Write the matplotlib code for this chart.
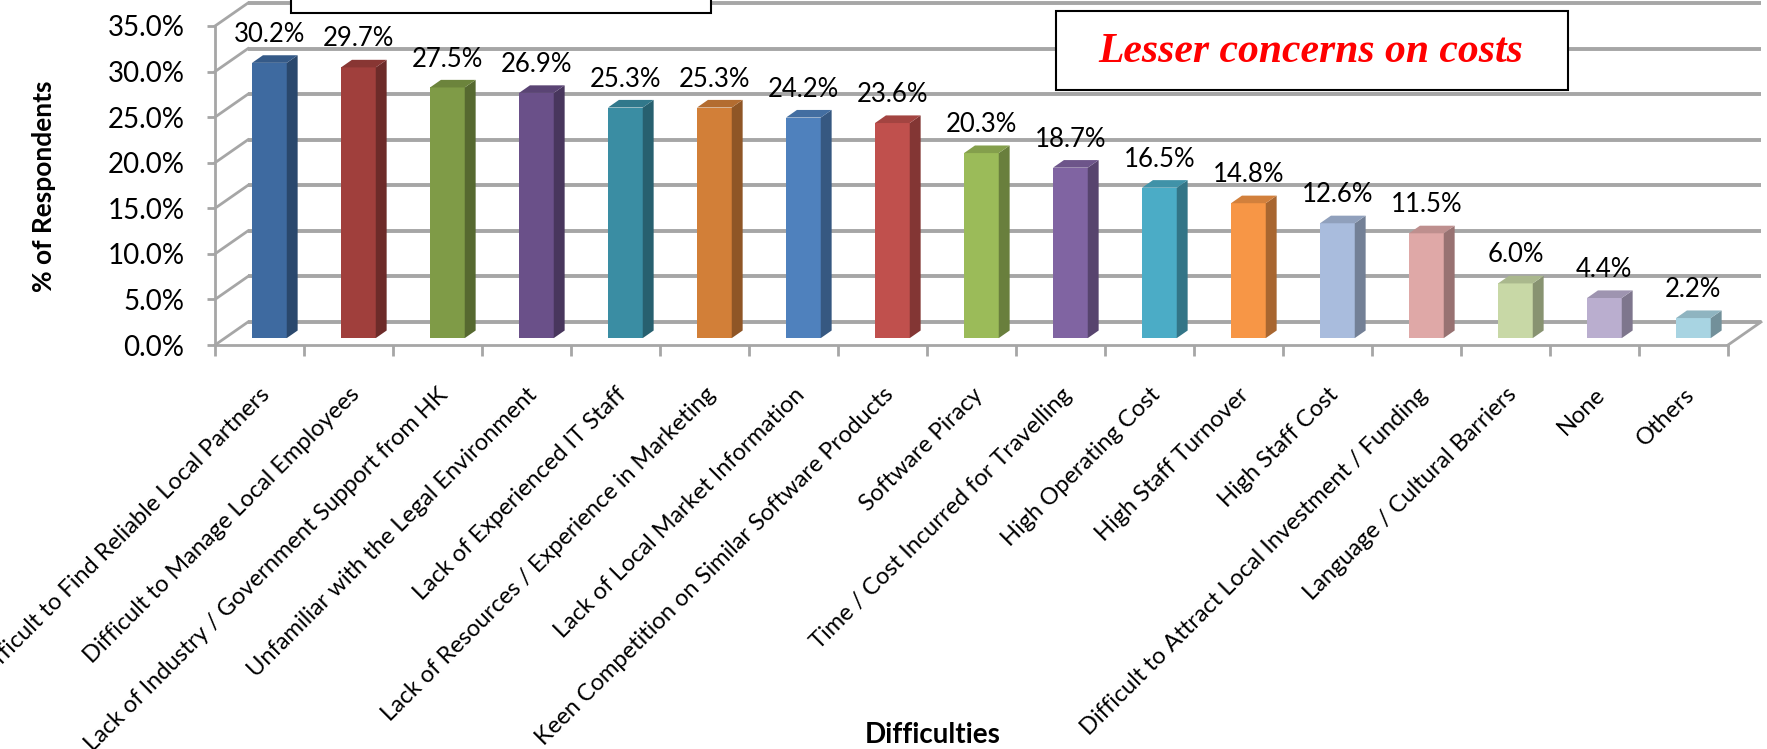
import numpy as np
import matplotlib.pyplot as plt
from matplotlib.patches import Polygon, Rectangle
from matplotlib.colors import to_rgb

plt.rcParams['font.family'] = ['Lato', 'DejaVu Sans']

# data
categories = [
    'Difficult to Find Reliable Local Partners',
    'Difficult to Manage Local Employees',
    'Lack of Industry / Government Support from HK',
    'Unfamiliar with the Legal Environment',
    'Lack of Experienced IT Staff',
    'Lack of Resources / Experience in Marketing',
    'Lack of Local Market Information',
    'Keen Competition on Similar Software Products',
    'Software Piracy',
    'Time / Cost Incurred for Travelling',
    'High Operating Cost',
    'High Staff Turnover',
    'High Staff Cost',
    'Difficult to Attract Local Investment / Funding',
    'Language / Cultural Barriers',
    'None',
    'Others',
]
values = [30.2, 29.7, 27.5, 26.9, 25.3, 25.3, 24.2, 23.6, 20.3,
          18.7, 16.5, 14.8, 12.6, 11.5, 6.0, 4.4, 2.2]
bar_colors = ['#3E6AA0', '#A03F3C', '#7F9B47', '#6A5089', '#3A8DA3', '#D27F38',
              '#4F81BD', '#C0504D', '#9BBB59', '#8064A2', '#4BACC6', '#F79646',
              '#A9BCDD', '#DFA8A7', '#C8D8A6', '#BAAECF', '#A8D4E2']
y_ticks = [0, 5, 10, 15, 20, 25, 30, 35]

W, H = 1767, 749
fig = plt.figure(figsize=(W / 100, H / 100), dpi=100)
ax = fig.add_axes([215 / W, 1 - 345 / H, (1728 - 215) / W, (345 - 26) / H])
n = len(values)
ax.set_xlim(-0.5, n - 0.5)
ax.set_ylim(0, 35)

# fake 3d depth (in data units)
ddx = 33 / 89
ddy = 23 / (319 / 35)
f0, f1 = 0.3, 0.63
bw = 0.39
grid_c = '#a6a6a6'

# walls
for v in y_ticks:
    ax.plot([-0.5 + ddx, n - 0.5 + ddx], [v + ddy] * 2, color=grid_c, lw=2.8,
            clip_on=False, zorder=0, solid_capstyle='butt')
    ax.plot([-0.5, -0.5 + ddx], [v, v + ddy], color=grid_c, lw=2,
            clip_on=False, zorder=0)
ax.plot([n - 0.5, n - 0.5 + ddx], [0, ddy], color=grid_c, lw=2,
        clip_on=False, zorder=0)

# bars
x = np.arange(n)
xc = x + f0 * ddx
ax.bar(xc, values, width=bw, bottom=f0 * ddy, color=bar_colors, zorder=3)
sx, sy = (f1 - f0) * ddx, (f1 - f0) * ddy
for xi, v, c in zip(xc, values, bar_colors):
    rgb = np.array(to_rgb(c))
    xl, xr = xi - bw / 2, xi + bw / 2
    b, t = f0 * ddy, f0 * ddy + v
    side = [(xr, b), (xr + sx, b + sy), (xr + sx, t + sy), (xr, t)]
    top = [(xl, t), (xr, t), (xr + sx, t + sy), (xl + sx, t + sy)]
    ax.add_patch(Polygon(side, closed=True, fc=rgb * 0.68, ec='none',
                         zorder=3, clip_on=False))
    ax.add_patch(Polygon(top, closed=True, fc=rgb * 0.85, ec='none',
                         zorder=3, clip_on=False))
    ax.annotate(f'{v:.1f}%', (xi, t + sy), xytext=(0, 6),
                textcoords='offset points', ha='center', va='bottom',
                fontsize=18.5, annotation_clip=False)

# axes look
for s in ['top', 'right']:
    ax.spines[s].set_visible(False)
for s in ['left', 'bottom']:
    ax.spines[s].set_color(grid_c)
    ax.spines[s].set_linewidth(2)
ax.set_yticks(y_ticks, [f'{v:.1f}%' for v in y_ticks])
ax.tick_params(axis='y', length=6, width=2, color=grid_c, pad=16, labelsize=20)
ax.set_xticks(x)
ax.set_xticklabels(categories, rotation=45, ha='right', rotation_mode='anchor',
                   fontsize=17)
ax.set_xticks(np.arange(-0.5, n, 1), minor=True)
ax.tick_params(axis='x', which='major', length=0, pad=28)
ax.tick_params(axis='x', which='minor', length=8, width=2, color=grid_c)
ax.patch.set_visible(False)

fig.text(44 / W, 1 - 186 / H, '% of Respondents', rotation=90, fontsize=19,
         fontweight='bold', ha='center', va='center')
fig.text(933 / W, 1 - 735 / H, 'Difficulties', fontsize=20, fontweight='bold',
         ha='center', va='center')

# text boxes
fig.add_artist(Rectangle((291 / W, 1 - 13 / H), 420 / W, 30 / H,
                         transform=fig.transFigure, fc='white', ec='black',
                         lw=1.5, zorder=5))
fig.add_artist(Rectangle((1056 / W, 1 - 90 / H), 512 / W, 79 / H,
                         transform=fig.transFigure, fc='white', ec='black',
                         lw=1.5, zorder=5))
fig.text(1311 / W, 1 - 52 / H, 'Lesser concerns on costs', color='red',
         fontsize=30, fontstyle='italic', fontweight='bold',
         family='Liberation Serif', ha='center', va='center', zorder=6)

fig.savefig('out.png', dpi=100)
